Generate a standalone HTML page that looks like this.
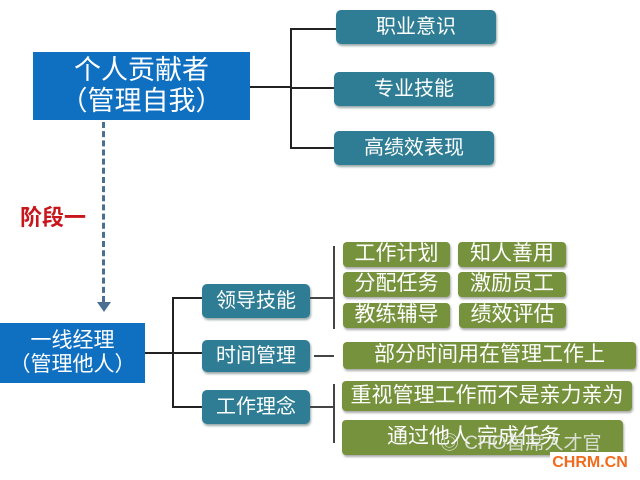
<!DOCTYPE html>
<html><head><meta charset="utf-8"><style>
body{margin:0;width:640px;height:480px;background:#fff;position:relative;overflow:hidden;font-family:"Liberation Sans","Noto Sans CJK SC",sans-serif}
.b{position:absolute;display:flex;align-items:center;justify-content:center;color:#fff;box-sizing:border-box;text-align:center;line-height:1.15}
.blue{background:#0f6fc1}
.teal{background:#2e7d94;border-radius:5px;box-shadow:1px 2px 2px #9aa;font-size:20px}
.g{background:#76923c;border-radius:4px;box-shadow:1px 2px 2px #aaa;font-size:21px}
.l{position:absolute;background:#222}
</style></head><body>
<div class="b blue" style="left:33px;top:52px;width:217px;height:68px;font-size:27px">个人贡献者<br>（管理自我）</div>
<div class="l" style="left:250px;top:86px;width:41px;height:2px"></div>
<div class="l" style="left:290px;top:28px;width:2px;height:121px"></div>
<div class="l" style="left:290px;top:28px;width:46px;height:2px"></div>
<div class="l" style="left:290px;top:87px;width:44px;height:2px"></div>
<div class="l" style="left:290px;top:147px;width:44px;height:2px"></div>
<div class="b teal" style="left:336px;top:10px;width:160px;height:34px">职业意识</div>
<div class="b teal" style="left:334px;top:72px;width:160px;height:34px">专业技能</div>
<div class="b teal" style="left:334px;top:131px;width:160px;height:34px">高绩效表现</div>
<div style="position:absolute;left:102px;top:122px;height:180px;border-left:3px dashed #4a6f92"></div>
<div style="position:absolute;left:97px;top:302px;width:0;height:0;border-left:7px solid transparent;border-right:7px solid transparent;border-top:10px solid #4a6f92"></div>
<div style="position:absolute;left:20px;top:200px;color:#c8161d;font-size:22px;font-weight:bold">阶段一</div>
<div class="b blue" style="left:0;top:323px;width:145px;height:60px;font-size:21px">一线经理<br>（管理他人）</div>
<div class="l" style="left:145px;top:352px;width:58px;height:2px"></div>
<div class="l" style="left:172px;top:297px;width:2px;height:111px"></div>
<div class="l" style="left:172px;top:297px;width:30px;height:2px"></div>
<div class="l" style="left:172px;top:406px;width:30px;height:2px"></div>
<div class="b teal" style="left:202px;top:284px;width:108px;height:34px">领导技能</div>
<div class="b teal" style="left:202px;top:340px;width:108px;height:32px">时间管理</div>
<div class="b teal" style="left:202px;top:390px;width:108px;height:34px">工作理念</div>
<div class="l" style="left:310px;top:297px;width:24px;height:2px;background:#444"></div>
<div class="l" style="left:333px;top:246px;width:2px;height:83px;background:#444"></div>
<div class="l" style="left:314px;top:355px;width:20px;height:2px;background:#444"></div>
<div class="l" style="left:310px;top:406px;width:24px;height:2px;background:#444"></div>
<div class="l" style="left:333px;top:384px;width:2px;height:59px;background:#444"></div>
<div class="b g" style="left:343px;top:242px;width:107px;height:25px">工作计划</div>
<div class="b g" style="left:458px;top:242px;width:108px;height:25px">知人善用</div>
<div class="b g" style="left:343px;top:272px;width:107px;height:25px">分配任务</div>
<div class="b g" style="left:458px;top:272px;width:108px;height:25px">激励员工</div>
<div class="b g" style="left:343px;top:303px;width:107px;height:25px">教练辅导</div>
<div class="b g" style="left:459px;top:303px;width:107px;height:25px">绩效评估</div>
<div class="b g" style="left:343px;top:342px;width:293px;height:27px">部分时间用在管理工作上</div>
<div class="b g" style="left:342px;top:381px;width:290px;height:30px">重视管理工作而不是亲力亲为</div>
<div class="b g" style="left:342px;top:420px;width:281px;height:35px;justify-content:flex-start;padding-left:45px">通过他人 完成任务</div>
<div style="position:absolute;left:440px;top:428px;color:rgba(235,235,235,0.85);font-size:19px">◎ CHO首席人才官</div>
<div style="position:absolute;left:550px;top:452px;width:80px;height:22px;background:#fff;color:#f26a1b;font-weight:bold;font-size:16px;line-height:22px;text-align:center">CHRM.CN</div>
</body></html>
